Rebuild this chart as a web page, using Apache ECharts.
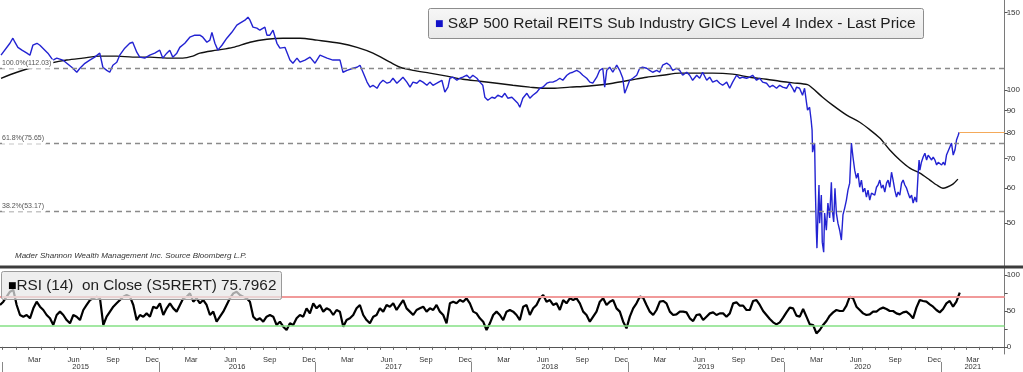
<!DOCTYPE html>
<html><head><meta charset="utf-8">
<script src="https://cdn.jsdelivr.net/npm/echarts@6/dist/echarts.min.js"></script>
<style>html,body{margin:0;padding:0;background:#fff}#c{width:1023px;height:372px}</style>
</head><body><div id="c"></div>
<script>
// ---------- data ----------
const axisStart = '2014-12-26';
const axisEnd = '2021-05-30';

// price: dates as decimal years, values = index level
const priceYears = [2014.990,2015.047,2015.066,2015.079,2015.098,2015.124,2015.156,2015.175,2015.194,2015.220,2015.239,2015.258,2015.290,2015.322,2015.347,2015.386,2015.411,2015.443,2015.475,2015.495,2015.527,2015.558,2015.590,2015.622,2015.642,2015.667,2015.686,2015.706,2015.731,2015.750,2015.782,2015.814,2015.833,2015.859,2015.878,2015.910,2015.942,2015.974,2016.006,2016.025,2016.051,2016.070,2016.089,2016.115,2016.134,2016.166,2016.198,2016.230,2016.262,2016.281,2016.307,2016.326,2016.339,2016.358,2016.377,2016.403,2016.434,2016.466,2016.498,2016.518,2016.550,2016.569,2016.582,2016.601,2016.626,2016.645,2016.677,2016.690,2016.709,2016.729,2016.754,2016.773,2016.805,2016.837,2016.856,2016.882,2016.901,2016.933,2016.965,2016.997,2017.029,2017.074,2017.112,2017.157,2017.176,2017.202,2017.240,2017.266,2017.285,2017.304,2017.330,2017.349,2017.368,2017.394,2017.413,2017.432,2017.458,2017.477,2017.496,2017.521,2017.541,2017.560,2017.585,2017.605,2017.624,2017.649,2017.668,2017.688,2017.713,2017.732,2017.752,2017.777,2017.809,2017.828,2017.848,2017.860,2017.880,2017.905,2017.924,2017.943,2017.969,2017.988,2018.007,2018.033,2018.052,2018.071,2018.084,2018.103,2018.129,2018.148,2018.167,2018.193,2018.212,2018.231,2018.257,2018.276,2018.295,2018.308,2018.327,2018.353,2018.372,2018.391,2018.417,2018.436,2018.455,2018.481,2018.500,2018.519,2018.545,2018.564,2018.583,2018.609,2018.628,2018.647,2018.672,2018.692,2018.711,2018.736,2018.756,2018.775,2018.800,2018.819,2018.839,2018.851,2018.864,2018.883,2018.903,2018.928,2018.947,2018.967,2018.979,2018.992,2019.011,2019.031,2019.056,2019.075,2019.094,2019.120,2019.139,2019.158,2019.184,2019.203,2019.222,2019.248,2019.267,2019.286,2019.312,2019.331,2019.350,2019.376,2019.395,2019.414,2019.440,2019.459,2019.478,2019.504,2019.523,2019.542,2019.568,2019.587,2019.606,2019.632,2019.651,2019.670,2019.695,2019.715,2019.734,2019.759,2019.779,2019.798,2019.823,2019.843,2019.862,2019.887,2019.907,2019.926,2019.951,2019.971,2019.990,2020.015,2020.034,2020.054,2020.066,2020.079,2020.098,2020.117,2020.130,2020.143,2020.149,2020.162,2020.172,2020.178,2020.181,2020.194,2020.199,2020.205,2020.209,2020.215,2020.222,2020.226,2020.237,2020.243,2020.252,2020.258,2020.269,2020.279,2020.290,2020.301,2020.307,2020.316,2020.324,2020.333,2020.343,2020.354,2020.365,2020.375,2020.386,2020.397,2020.407,2020.418,2020.429,2020.439,2020.450,2020.461,2020.471,2020.482,2020.493,2020.503,2020.514,2020.525,2020.535,2020.546,2020.557,2020.567,2020.578,2020.589,2020.599,2020.610,2020.621,2020.631,2020.642,2020.653,2020.663,2020.674,2020.685,2020.695,2020.706,2020.717,2020.727,2020.738,2020.749,2020.759,2020.770,2020.781,2020.791,2020.802,2020.813,2020.823,2020.834,2020.845,2020.855,2020.861,2020.866,2020.876,2020.887,2020.898,2020.909,2020.919,2020.930,2020.941,2020.951,2020.962,2020.973,2020.983,2020.994,2021.005,2021.015,2021.026,2021.036,2021.047,2021.057,2021.068,2021.079,2021.090,2021.100,2021.111,2021.117];
const priceValues = [120.0,127.7,131.1,128.4,125.0,123.2,121.3,120.0,126.4,127.7,126.4,124.5,121.3,117.0,118.2,117.0,115.1,112.7,109.8,112.1,115.0,117.0,118.8,121.3,112.7,110.9,109.8,113.9,115.7,120.0,124.5,127.7,128.4,121.9,118.8,118.2,120.0,121.3,123.2,118.2,121.3,123.2,118.8,121.3,125.0,127.7,131.8,133.2,133.2,131.8,128.4,129.8,135.2,127.7,123.2,126.4,131.1,135.2,140.3,141.8,144.0,146.3,144.0,138.9,138.2,136.7,138.9,133.2,133.2,136.7,127.7,124.5,125.0,117.0,115.1,118.2,115.7,117.0,118.8,115.1,120.0,118.2,117.0,117.0,109.8,110.9,112.1,112.7,113.9,109.8,104.3,101.6,102.6,101.0,103.7,105.3,103.7,104.3,106.4,103.7,105.3,107.0,104.3,101.6,104.3,103.7,105.3,104.3,102.6,104.3,102.6,103.7,105.3,99.0,101.6,106.4,107.0,105.3,106.4,107.0,108.1,106.4,108.1,106.4,104.3,102.6,96.4,94.9,96.4,95.9,97.4,96.4,98.4,95.9,96.4,94.9,93.4,91.5,95.9,98.4,95.9,97.4,99.0,101.0,101.6,103.7,104.3,104.3,105.3,106.4,105.3,108.1,109.3,109.8,110.9,109.8,108.1,106.4,104.3,103.7,107.0,110.9,112.1,101.6,110.9,112.7,109.8,113.9,110.9,106.4,98.4,101.0,105.3,106.4,108.1,112.1,112.7,112.1,110.9,109.8,110.9,109.8,113.9,115.1,113.9,110.9,112.1,110.9,108.1,109.8,108.1,105.3,108.1,106.4,109.8,105.3,107.0,104.3,105.3,103.7,102.6,104.3,101.0,104.3,108.1,106.4,107.0,106.4,107.0,108.1,105.3,106.4,104.3,103.7,101.6,102.6,101.0,102.6,101.6,101.0,103.7,101.0,99.0,101.6,101.0,97.4,101.0,93.4,90.1,91.5,85.5,81.2,72.4,75.9,59.4,48.2,43.9,51.6,61.0,50.0,57.9,45.3,43.0,52.7,48.2,55.5,51.4,61.9,53.5,50.3,60.0,52.7,50.0,48.2,45.8,52.2,54.1,56.4,59.4,61.6,75.9,70.6,65.9,63.2,64.9,60.3,62.6,58.8,60.0,57.3,59.4,56.4,58.5,58.8,57.9,60.3,61.0,62.6,60.0,61.0,58.8,61.6,62.6,60.3,65.2,62.6,59.4,57.3,58.8,57.9,61.6,62.6,61.0,60.0,58.5,57.0,57.9,55.5,57.3,55.8,64.9,69.5,65.9,68.7,70.6,72.0,69.5,71.3,70.6,69.5,70.6,69.5,67.7,68.7,68.4,67.7,68.7,67.7,71.3,72.0,74.3,75.9,71.3,73.2,77.1,79.1,80.3];

// moving average (black line)
const maYears = [2014.990,2015.092,2015.194,2015.303,2015.411,2015.514,2015.622,2015.731,2015.833,2015.942,2016.051,2016.153,2016.217,2016.262,2016.371,2016.473,2016.582,2016.690,2016.793,2016.901,2017.010,2017.157,2017.266,2017.368,2017.477,2017.541,2017.624,2017.732,2017.841,2017.943,2018.052,2018.161,2018.263,2018.372,2018.455,2018.519,2018.628,2018.736,2018.800,2018.903,2019.011,2019.120,2019.222,2019.331,2019.440,2019.542,2019.670,2019.779,2019.887,2019.971,2020.054,2020.149,2020.181,2020.245,2020.309,2020.399,2020.482,2020.546,2020.610,2020.674,2020.738,2020.802,2020.866,2020.930,2020.974,2021.013,2021.038,2021.077,2021.109];
const maValues = [106.4,109.8,112.7,115.1,117.0,118.2,119.4,119.4,118.8,118.8,118.2,118.2,119.4,121.3,123.2,125.0,128.4,130.4,131.1,131.1,129.8,127.7,125.0,121.3,115.7,112.7,110.9,109.3,107.6,105.9,104.8,103.7,102.6,101.6,101.0,101.0,101.6,102.1,102.6,103.7,105.3,107.0,108.1,109.3,109.3,109.3,108.7,107.0,105.9,104.8,103.9,102.9,101.0,96.4,92.5,87.8,84.6,81.4,77.9,73.2,69.5,66.6,64.9,62.6,61.0,60.0,60.3,61.3,62.9];

// RSI (14): sampled about every 7.8 days from the first date
const rsiFirstDate = '2014-12-26';
const rsiStepDays = 7.785;
const rsiValues = [58.4,63,70,77,79.3,58.4,44.4,42.1,44.4,39.8,53.7,63,56,51.4,44.4,39.8,30.5,44.4,49.1,44.4,37.4,32.8,44.4,42.1,37.4,51.4,58.4,65.3,67.7,70,67.7,30.5,42.1,49.1,56,60.7,65.3,70,72.3,70,58.4,37.4,44.4,42.1,46.7,42.1,56,53.7,60.7,44.4,53.7,60.7,53.7,49.1,58.4,67.7,70,74.6,63,67.7,60.7,65.3,58.4,44.4,49.1,35.1,42.1,49.1,58.4,67.7,74.6,77,72.3,70,67.7,63,42.1,37.4,39.8,35.1,42.1,44.4,42.1,30.5,35.1,28.1,23.5,32.8,30.5,39.8,44.4,42.1,53.7,46.7,60.7,53.7,58.4,49.1,53.7,51.4,44.4,51.4,49.1,28.1,37.4,39.8,44.4,53.7,58.4,44.4,37.4,32.8,42.1,44.4,53.7,49.1,58.4,56,60.7,51.4,58.4,65.3,53.7,49.1,44.4,51.4,53.7,56,49.1,53.7,51.4,58.4,49.1,44.4,32.8,60.7,63,60.7,65.3,63,67.7,60.7,49.1,46.7,39.8,35.1,23.5,32.8,44.4,49.1,44.4,37.4,49.1,51.4,
49.1,44.4,37.4,56,58.4,44.4,53.7,58.4,67.7,72.3,63,65.3,58.4,60.7,51.4,65.3,60.7,67.7,65.3,67.7,60.7,49.1,44.4,35.1,42.1,49.1,63,67.7,58.4,63,65.3,53.7,49.1,35.1,25.8,42.1,53.7,60.7,70,68.6,58.4,49.1,44.4,51.4,63,64,60.7,49.1,44.4,45.3,49.1,49.1,48.1,39.8,36,44.4,45.3,37.4,42.1,46.7,48.1,44.4,46.7,46.7,42.1,46.7,60.7,62.1,57.4,57.4,51.4,51.4,64,65.3,58.4,50,44.4,38.8,34.2,31.4,34.2,40.7,48.1,54.7,53.7,43.5,42.1,52.8,42.1,31.4,30.5,18.8,23.5,30.5,36,43.5,48.1,51.4,50,50,57.4,70,67.7,56,51.4,46.7,44.4,45.3,49.1,49.1,52.8,54.7,52.8,50,50,46.7,45.3,48.1,49.1,45.3,39.8,54.7,65.3,64,63,59.3,56,51.4,48.1,52.8,60.7,64,56,63,75.8];
const rsiLast = '75.7962';

// reference levels and tick labels
const fibLevels = [112.03, 75.65, 53.17];
const fibNames = ['100.0%', '61.8%', '38.2%'];
const priceTicks = [50, 60, 70, 80, 90, 100, 150];
const rsiTicks = [0, 50, 100];
const rsiMinorTicks = [0, 25, 50, 75, 100];
const rsiOverbought = 70;
const rsiOversold = 30;
const monthNames = ['Jan','Feb','Mar','Apr','May','Jun','Jul','Aug','Sep','Oct','Nov','Dec'];
const labelMonths = [2, 5, 8, 11]; // Mar, Jun, Sep, Dec
const years = [2015, 2016, 2017, 2018, 2019, 2020, 2021];

const titleMain = 'S&P 500 Retail REITS Sub Industry GICS Level 4 Index - Last Price';
const titleRsi = 'RSI (14)  on Close (S5RERT) ' + rsiLast;
const sourceNote = 'Mader Shannon Wealth Management Inc. Source Bloomberg L.P.';

// ---------- build ----------
const DAY = 86400000;
function yearToTs(y) {
  const yi = Math.floor(y);
  const s = Date.UTC(yi, 0, 1), e = Date.UTC(yi + 1, 0, 1);
  return s + (y - yi) * (e - s);
}
const tMin = Date.parse(axisStart);
const tMax = Date.parse(axisEnd);
const priceData = priceYears.map((y, i) => [yearToTs(y), priceValues[i]]);
const maData = maYears.map((y, i) => [yearToTs(y), maValues[i]]);
const rsiStart = Date.parse(rsiFirstDate);
const rsiData = rsiValues.map((v, i) => [rsiStart + i * rsiStepDays * DAY, v]);
const lastPrice = priceData[priceData.length - 1];

const monthStarts = [], monthLabelPos = [];
years.forEach(y => {
  for (let m = 0; m < 12; m++) {
    const t = Date.UTC(y, m, 1);
    if (t >= tMin && t <= tMax) monthStarts.push(t);
    if (labelMonths.indexOf(m) >= 0) {
      const mid = (Date.UTC(y, m, 1) + Date.UTC(y, m + 1, 1)) / 2;
      if (mid >= tMin && mid <= tMax) monthLabelPos.push(mid);
    }
  }
});
const yearStarts = years.map(y => Date.UTC(y, 0, 1)).filter(t => t >= tMin && t <= tMax);
const yearLabelPos = years.map(y => {
  const s = Math.max(Date.UTC(y, 0, 1), tMin), e = Math.min(Date.UTC(y + 1, 0, 1), tMax);
  return (s + e) / 2;
});

const FONT = 'Liberation Sans, Arial, sans-serif';
const chart = echarts.init(document.getElementById('c'), null, {renderer: 'canvas'});
chart.setOption({
  animation: false,
  backgroundColor: '#ffffff',
  textStyle: {fontFamily: FONT},
  title: [
    {
      text: '{sq|■} ' + titleMain,
      left: 428, top: 8,
      padding: [6, 8, 6, 7],
      backgroundColor: {type: 'linear', x: 0, y: 0, x2: 0, y2: 1, colorStops: [{offset: 0, color: '#f7f7f7'}, {offset: 1, color: '#e8e8e8'}]},
      borderColor: '#8d8d8d', borderWidth: 1, borderRadius: 2,
      textStyle: {fontSize: 15.5, color: '#1e1e1e', fontWeight: 'normal', fontFamily: FONT, lineHeight: 19,
        rich: {sq: {fontSize: 9, color: '#1010c8', fontFamily: 'DejaVu Sans', verticalAlign: 'middle', lineHeight: 19}}}
    },
    {
      text: '{sq|■}' + titleRsi,
      left: 1, top: 271,
      padding: [5, 5, 5, 7],
      backgroundColor: 'rgba(232,232,232,0.72)',
      borderColor: '#9a9a9a', borderWidth: 1, borderRadius: 2,
      textStyle: {fontSize: 15.3, color: '#1e1e1e', fontWeight: 'normal', fontFamily: FONT, lineHeight: 19,
        rich: {sq: {fontSize: 9, color: '#000', fontFamily: 'DejaVu Sans', verticalAlign: 'middle', lineHeight: 19}}}
    },
    {
      text: sourceNote, left: 15, top: 252, padding: 0,
      textStyle: {fontSize: 8, fontStyle: 'italic', color: '#333', fontWeight: 'normal', fontFamily: FONT}
    }
  ],
  graphic: [
    {type: 'rect', left: 0, top: 265.5, shape: {width: 1023, height: 3}, style: {fill: '#3c3c3c'}, z: 50}
  ],
  grid: [
    {left: 0, right: 18, top: 0, height: 266},
    {left: 0, right: 18, top: 268, height: 86}
  ],
  xAxis: [
    {type: 'value', gridIndex: 0, min: tMin, max: tMax, show: false, splitLine: {show: false}},
    {type: 'value', gridIndex: 1, min: tMin, max: tMax, position: 'bottom',
      axisLine: {show: true, lineStyle: {color: '#555', width: 1}},
      axisTick: {show: true, customValues: monthStarts, length: 3, lineStyle: {color: '#666'}},
      axisLabel: {customValues: monthLabelPos, hideOverlap: false, fontSize: 7.5, color: '#333', margin: 2,
        formatter: v => monthNames[new Date(v).getUTCMonth()]},
      splitLine: {show: false}},
    {type: 'value', gridIndex: 1, min: tMin, max: tMax, position: 'bottom', offset: 8,
      axisLine: {show: false},
      axisTick: {show: true, customValues: yearStarts, length: 10, lineStyle: {color: '#888'}},
      axisLabel: {customValues: yearLabelPos, hideOverlap: false, fontSize: 7.5, color: '#333', margin: 1,
        formatter: v => String(new Date(v).getUTCFullYear())},
      splitLine: {show: false}}
  ],
  yAxis: [
    {type: 'log', logBase: 10, gridIndex: 0, position: 'right', min: 40, max: 160,
      axisLine: {show: true, lineStyle: {color: '#7a7a7a'}},
      axisTick: {show: true, customValues: priceTicks, length: 3, lineStyle: {color: '#555'}},
      axisLabel: {customValues: priceTicks, fontSize: 8, color: '#333', margin: 2, formatter: v => String(Math.round(v))},
      splitLine: {show: false}},
    {type: 'value', gridIndex: 1, position: 'right', min: -10, max: 110,
      axisLine: {show: true, lineStyle: {color: '#7a7a7a'}},
      axisTick: {show: true, customValues: rsiMinorTicks, length: 3, lineStyle: {color: '#555'}},
      axisLabel: {customValues: rsiTicks, fontSize: 8, color: '#333', margin: 2},
      splitLine: {show: false}}
  ],
  series: [
    {
      name: 'levels', type: 'line', xAxisIndex: 0, yAxisIndex: 0, data: [], z: 1, silent: true,
      markLine: {
        silent: true, symbol: ['none', 'none'],
        lineStyle: {color: '#8a8a8a', type: [5, 4], width: 1.3},
        label: {show: true, position: 'insideStartTop', fontSize: 7, color: '#555', distance: [2, 0],
          backgroundColor: '#fff', padding: [0, 2, 2, 0],
          formatter: p => fibNames[p.dataIndex] + '(' + fibLevels[p.dataIndex].toFixed(2) + ')'},
        data: fibLevels.map(v => ({yAxis: v}))
      }
    },
    {
      name: 'MA', type: 'line', xAxisIndex: 0, yAxisIndex: 0, data: maData, z: 2,
      showSymbol: false, smooth: 0.3, lineStyle: {color: '#111', width: 1.4}
    },
    {
      name: titleMain, type: 'line', xAxisIndex: 0, yAxisIndex: 0, data: priceData, z: 3,
      showSymbol: false, lineStyle: {color: '#2323d2', width: 1.4},
      markLine: {
        silent: true, symbol: ['none', 'none'], label: {show: false},
        lineStyle: {color: '#f4aa5a', type: 'solid', width: 1},
        data: [[{coord: [lastPrice[0], lastPrice[1]]}, {coord: [tMax, lastPrice[1]]}]]
      }
    },
    {
      name: 'bands', type: 'line', xAxisIndex: 1, yAxisIndex: 1, data: [], z: 1, silent: true,
      markLine: {
        silent: true, symbol: ['none', 'none'], label: {show: false},
        data: [
          {yAxis: rsiOverbought, lineStyle: {color: '#f19a9a', type: 'solid', width: 2}},
          {yAxis: rsiOversold, lineStyle: {color: '#84e184', type: 'solid', width: 1.5}}
        ]
      }
    },
    {
      name: 'RSI', type: 'line', xAxisIndex: 1, yAxisIndex: 1, data: rsiData, z: 3,
      showSymbol: false, lineStyle: {color: '#000', width: 2.2}
    }
  ]
});
</script>
</body></html>
